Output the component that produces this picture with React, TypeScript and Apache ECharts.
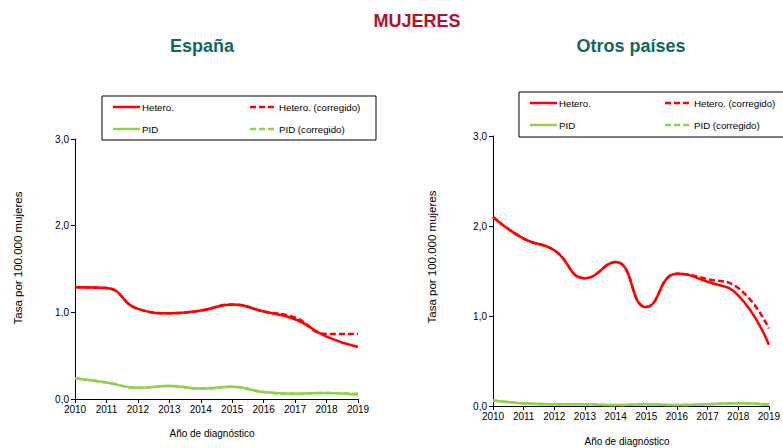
import React, { useEffect, useRef } from "react";
import * as echarts from "echarts";

const years = ["2010", "2011", "2012", "2013", "2014", "2015", "2016", "2017", "2018", "2019"];

// España
const espHetero = [1.29, 1.28, 1.04, 0.99, 1.02, 1.09, 1.01, 0.92, 0.72, 0.6];
const espHeteroCorr = [1.29, 1.28, 1.04, 0.99, 1.02, 1.09, 1.01, 0.94, 0.75, 0.75];
const espPID = [0.24, 0.19, 0.13, 0.15, 0.12, 0.14, 0.08, 0.06, 0.07, 0.05];
const espPIDCorr = [0.24, 0.19, 0.13, 0.15, 0.12, 0.14, 0.08, 0.06, 0.07, 0.06];

// Otros países
const otrHetero = [2.1, 1.86, 1.73, 1.42, 1.6, 1.1, 1.47, 1.38, 1.23, 0.68];
const otrHeteroCorr = [2.1, 1.86, 1.73, 1.42, 1.6, 1.1, 1.47, 1.41, 1.31, 0.86];
const otrPID = [0.06, 0.03, 0.02, 0.02, 0.01, 0.02, 0.01, 0.02, 0.03, 0.01];
const otrPIDCorr = [0.06, 0.03, 0.02, 0.02, 0.01, 0.02, 0.01, 0.02, 0.03, 0.02];

const legendNames = ["Hetero.", "Hetero. (corregido)", "PID", "PID (corregido)"];

const RED = "#ff0000";
const GREEN = "#92d050";
const FONT = "Liberation Sans, Arial, sans-serif";

function legendGroup(x: number, y: number, w: number, h: number, col2: number) {
  const rows = [
    { color: RED, names: [legendNames[0], legendNames[1]] },
    { color: GREEN, names: [legendNames[2], legendNames[3]] },
  ];
  const children: any[] = [
    { type: "rect", shape: { x, y, width: w, height: h }, style: { fill: "#fff", stroke: "#000", lineWidth: 1 } },
  ];
  rows.forEach((r, i) => {
    const cy = y + 11 + i * 22;
    [0, 1].forEach((j) => {
      const lx = j === 0 ? x + 11 : x + col2;
      children.push({
        type: "line",
        shape: { x1: lx, y1: cy, x2: lx + 27, y2: cy },
        style: { stroke: r.color, lineWidth: 2.5, lineDash: j === 1 ? [6, 3] : null },
      });
      children.push({
        type: "text",
        x: lx + 29,
        y: cy,
        style: { text: r.names[j], fill: "#000", font: `9.7px ${FONT}`, textVerticalAlign: "middle" },
      });
    });
  });
  return { type: "group", children };
}

export default function App() {
  const ref = useRef<HTMLDivElement>(null);
  useEffect(() => {
    if (!ref.current) return;
    const chart = echarts.init(ref.current, null, { renderer: "svg" });
    const yAxisBase = (gi: number) => ({
      type: "value",
      gridIndex: gi,
      min: 0,
      max: 3,
      interval: 1,
      axisLine: { show: true, lineStyle: { color: "#000", width: 1 } },
      axisTick: { show: true, length: 4, lineStyle: { color: "#000" } },
      splitLine: { show: false },
      axisLabel: {
        color: "#000",
        fontSize: 10,
        fontFamily: FONT,
        margin: 6,
        formatter: (v: number) => v.toFixed(1).replace(".", ","),
      },
    });
    const xAxisBase = (gi: number) => ({
      type: "category",
      gridIndex: gi,
      data: years,
      boundaryGap: false,
      axisLine: { show: true, lineStyle: { color: "#000", width: 1 } },
      axisTick: { show: true, length: 4, interval: 0, lineStyle: { color: "#000" } },
      axisLabel: { color: "#000", fontSize: 10, fontFamily: FONT, margin: 5, interval: 0 },
      splitLine: { show: false },
    });
    const line = (gi: number, data: number[], color: string, dashed: boolean, name: string) => ({
      type: "line",
      name,
      xAxisIndex: gi,
      yAxisIndex: gi,
      data,
      smooth: 0.5,
      symbol: "none",
      lineStyle: { color, width: 2.5, type: dashed ? [6, 3] : "solid" },
      z: dashed ? 2 : 3,
    });
    chart.setOption({
      animation: false,
      grid: [
        { left: 75, top: 139, width: 283, height: 260 },
        { left: 493, top: 136, width: 279, height: 270 },
      ],
      xAxis: [xAxisBase(0), xAxisBase(1)],
      yAxis: [yAxisBase(0), yAxisBase(1)],
      series: [
        line(0, espHeteroCorr, RED, true, legendNames[1]),
        line(0, espPIDCorr, GREEN, true, legendNames[3]),
        line(0, espHetero, RED, false, legendNames[0]),
        line(0, espPID, GREEN, false, legendNames[2]),
        line(1, otrHeteroCorr, RED, true, legendNames[1]),
        line(1, otrPIDCorr, GREEN, true, legendNames[3]),
        line(1, otrHetero, RED, false, legendNames[0]),
        line(1, otrPID, GREEN, false, legendNames[2]),
      ],
      graphic: [
        {
          type: "text",
          x: 417,
          y: 21,
          style: {
            text: "MUJERES",
            fill: "#b0122b",
            font: `bold 18px "Liberation Sans Narrow", "Arial Narrow", ${FONT}`,
            textAlign: "center",
            textVerticalAlign: "middle",
          },
        },
        {
          type: "text",
          x: 202,
          y: 46,
          style: {
            text: "España",
            fill: "#11675c",
            font: `bold 18px "Liberation Sans Narrow", "Arial Narrow", ${FONT}`,
            textAlign: "center",
            textVerticalAlign: "middle",
          },
        },
        {
          type: "text",
          x: 631,
          y: 46,
          style: {
            text: "Otros países",
            fill: "#11675c",
            font: `bold 18px "Liberation Sans Narrow", "Arial Narrow", ${FONT}`,
            textAlign: "center",
            textVerticalAlign: "middle",
          },
        },
        legendGroup(102, 96, 274, 44, 148),
        legendGroup(519, 92, 270, 45, 146),
        {
          type: "text",
          x: 18,
          y: 258,
          rotation: Math.PI / 2,
          style: {
            text: "Tasa por 100.000 mujeres",
            fill: "#000",
            font: `11.5px ${FONT}`,
            textAlign: "center",
            textVerticalAlign: "middle",
          },
        },
        {
          type: "text",
          x: 432,
          y: 257,
          rotation: Math.PI / 2,
          style: {
            text: "Tasa por 100.000 mujeres",
            fill: "#000",
            font: `11.5px ${FONT}`,
            textAlign: "center",
            textVerticalAlign: "middle",
          },
        },
        {
          type: "text",
          x: 212,
          y: 433,
          style: {
            text: "Año de diagnóstico",
            fill: "#000",
            font: `10px ${FONT}`,
            textAlign: "center",
            textVerticalAlign: "middle",
          },
        },
        {
          type: "text",
          x: 627,
          y: 441,
          style: {
            text: "Año de diagnóstico",
            fill: "#000",
            font: `10px ${FONT}`,
            textAlign: "center",
            textVerticalAlign: "middle",
          },
        },
      ],
    });
    return () => chart.dispose();
  }, []);
  return (
    <div
      ref={ref}
      style={{ position: "absolute", left: 0, top: 0, width: 783, height: 448, background: "#fff" }}
    />
  );
}
